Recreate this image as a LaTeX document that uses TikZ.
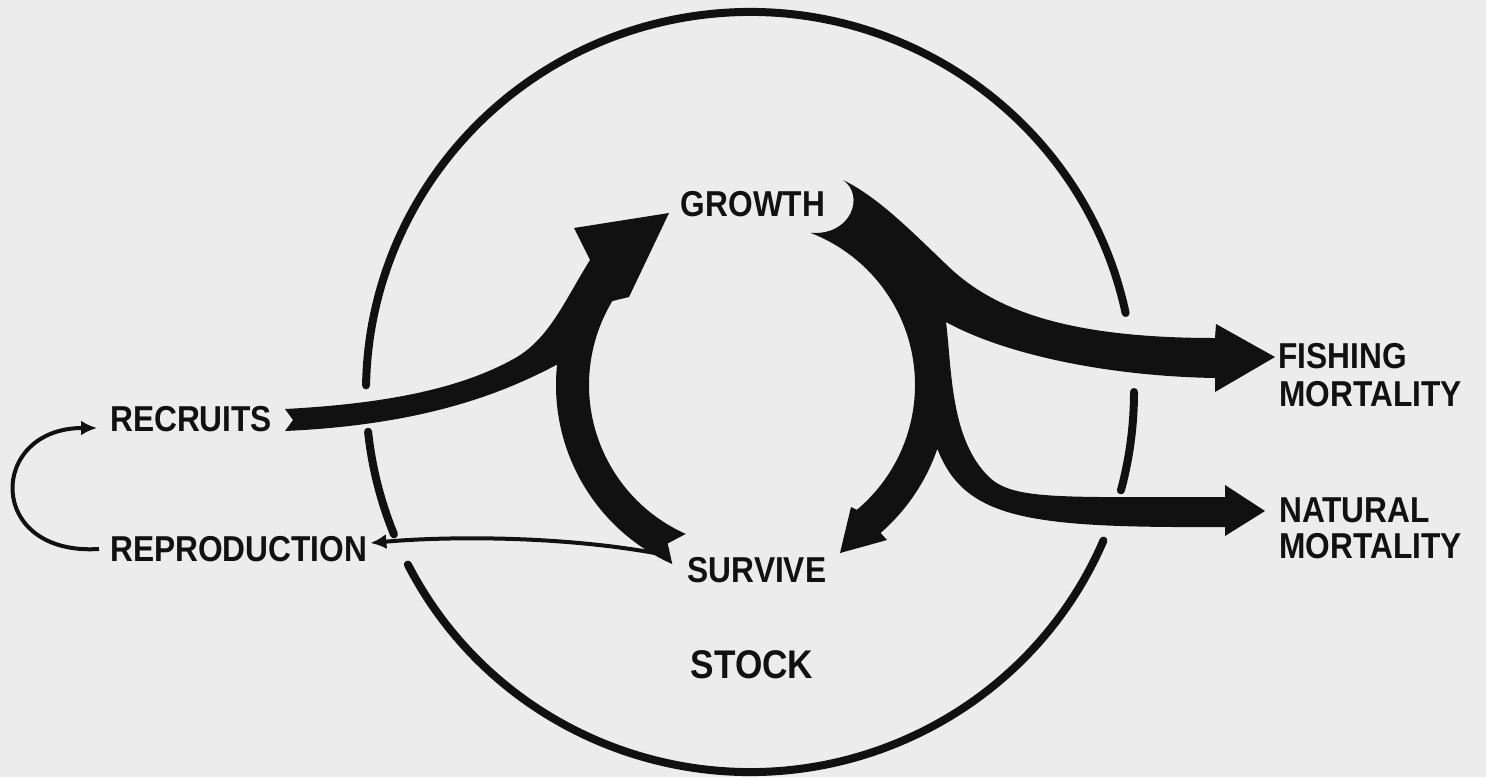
\documentclass[tikz,border=0pt]{standalone}
\usepackage{fontspec}
\newfontfamily\labfont{Liberation Sans}[FakeStretch=0.88]
\usetikzlibrary{arrows.meta,calc}
\definecolor{paper}{RGB}{236,236,236}
\definecolor{ink}{RGB}{17,17,17}
\tikzset{
  lab/.style={inner sep=0pt, font=\labfont\bfseries\fontsize{36}{40}\selectfont, text=ink},
  biglab/.style={inner sep=0pt, font=\labfont\bfseries\fontsize{40}{44}\selectfont, text=ink},
  rim/.style={draw=ink, line width=8pt, line cap=round},
  thinarrow/.style={draw=ink, line width=4pt, -{Latex[length=16pt,width=15pt]}},
  flow/.style={fill=ink},
}
\begin{document}
\begin{tikzpicture}[x=1pt,y=-1pt]
\fill[paper] (0,0) rectangle (1486,777);
\useasboundingbox (0,0) rectangle (1486,777);

% stock boundary (broken ellipse)
\coordinate (ellc) at (750,392);
\draw[rim] (ellc) ++(-12:384 and 380) arc[start angle=-12, end angle=-179, x radius=384, y radius=380];
\draw[rim] (ellc) ++(174:384 and 380) arc[start angle=174, end angle=158, x radius=384, y radius=380];
\draw[rim] (ellc) ++(153:384 and 380) arc[start angle=153, end angle=23, x radius=384, y radius=380];
\draw[rim] (ellc) ++(0:384 and 380) arc[start angle=0, end angle=15, x radius=384, y radius=380];

% labels
\node[lab] (growth) at (753,204) {GROWTH};
\node[lab] (survive) at (757,570) {SURVIVE};
\node[biglab] (stock) at (752,665) {STOCK};
\node[lab, anchor=west] (recruits) at (110,419) {RECRUITS};
\node[lab, anchor=west] (reproduction) at (110,549) {REPRODUCTION};
\node[lab, anchor=west] (fishing) at (1278,356) {FISHING};
\node[lab, anchor=west] (fishingm) at (1279,394) {MORTALITY};
\node[lab, anchor=west] (natural) at (1279,510) {NATURAL};
\node[lab, anchor=west] (naturalm) at (1279,546) {MORTALITY};

% centre of the inner cycle
\coordinate (cc) at (752,385);

% recruits + survive -> growth
\fill[flow] ($(cc)+(211:163)$) arc[start angle=211, end angle=114, radius=163]
  -- ($(cc)+(118:179.5)$) -- ($(cc)+(114:196)$)
  arc[start angle=114, end angle=186, radius=196]
  .. controls (500,395) and (420,425) .. (285,431)
  -- (293,420) -- (285,409)
  .. controls (380,404) and (460,390) .. (517,357)
  .. controls (550,337) and (565,300) .. (590,260)
  -- (574,228) -- (669,213) -- (629,297) -- cycle;

% growth -> fishing, natural, survive
\fill[flow] (843,180)
  .. controls (880,198) and (915,235) .. (950,268)
  .. controls (1000,315) and (1080,338) .. (1215,338)
  -- (1216,324) -- (1275,357) -- (1215,392) -- (1215,378)
  .. controls (1100,376) and (1000,352) .. (946,322)
  .. controls (952,370) and (950,440) .. (990,478)
  .. controls (1015,500) and (1060,497) .. (1225,497)
  -- (1225,485) -- (1265,511) -- (1225,536) -- (1225,527)
  .. controls (1030,528) and (965,520) .. ($(cc)+(19:196)$)
  arc[start angle=19, end angle=49, radius=196]
  -- (887,540) -- (840,553) -- (851,507) -- ($(cc)+(50:163)$)
  arc[start angle=50, end angle=-69, radius=163]
  .. controls (852,236) and (865,195) .. (843,180) -- cycle;

% thin connectors
\coordinate (survtail) at (655,553);
\draw[thinarrow] (survtail) .. controls (560,536) and (450,536) .. ([xshift=3pt,yshift=6pt]reproduction.east);
\draw[thinarrow] ([xshift=-11pt]reproduction.west) .. controls (-15,556) and (-12,428) .. ([xshift=-13pt,yshift=-9pt]recruits.west);
\end{tikzpicture}
\end{document}
